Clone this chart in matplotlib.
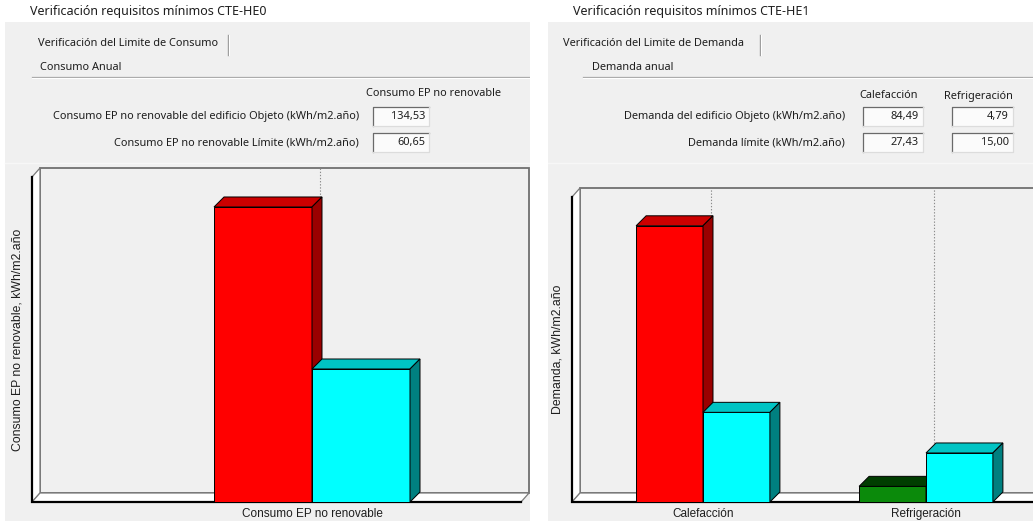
import matplotlib
matplotlib.use("Agg")
import matplotlib.pyplot as plt
from matplotlib.patches import Rectangle, Polygon

# ---- data -------------------------------------------------------------
he0_categories = ["Consumo EP no renovable"]
he0_objeto = [134.53]
he0_limite = [60.65]

he1_categories = ["Calefacción", "Refrigeración"]
he1_objeto = [84.49, 4.79]
he1_limite = [27.43, 15.00]

he0_title = "Verificación requisitos mínimos CTE-HE0"
he1_title = "Verificación requisitos mínimos CTE-HE1"
he0_tab = "Verificación del Limite de Consumo"
he1_tab = "Verificación del Limite de Demanda"
he0_section = "Consumo Anual"
he1_section = "Demanda anual"
he0_rows = ["Consumo EP no renovable del edificio Objeto (kWh/m2.año)",
            "Consumo EP no renovable Límite (kWh/m2.año)"]
he1_rows = ["Demanda del edificio Objeto (kWh/m2.año)",
            "Demanda límite (kWh/m2.año)"]
he0_ylabel = "Consumo EP no renovable, kWh/m2.año"
he1_ylabel = "Demanda, kWh/m2.año"

# ---- figure -----------------------------------------------------------
W, H = 1033, 521
fig = plt.figure(figsize=(W / 100, H / 100), dpi=100, facecolor="white")

UI_FONT = ["Noto Sans", "DejaVu Sans"]
CHART_FONT = ["Liberation Sans", "DejaVu Sans"]
PANEL = "#f0f0f0"
UI_SIZE = 7.9
TEXT = "#1e1e1e"

bg = fig.add_axes([0, 0, 1, 1])
bg.set_xlim(0, W)
bg.set_ylim(H, 0)
bg.axis("off")


def fmt(v):
    return f"{v:.2f}".replace(".", ",")


def field(x0, y0, x1, y1, value):
    bg.add_patch(Rectangle((x0, y0), x1 - x0, y1 - y0, facecolor="#fbfbfb",
                           edgecolor="none", zorder=2))
    bg.plot([x0, x0, x1], [y1, y0, y0], color="#6a6a6a", lw=0.9, zorder=3)
    bg.plot([x0, x1, x1], [y1, y1, y0], color="#dcdcdc", lw=0.9, zorder=3)
    bg.text(x1 - 4, (y0 + y1) / 2 + 0.5, value, ha="right", va="center",
            fontsize=UI_SIZE, family=UI_FONT, color=TEXT, zorder=4)


def ui_panel(x0, x1, title, tab, tab_x, tab_sep, section, section_x,
             line_x0):
    bg.add_patch(Rectangle((x0, 22), x1 - x0, H - 22, facecolor=PANEL,
                           edgecolor="none", zorder=0))
    bg.text(x0 + 25, 12, title, ha="left", va="center", fontsize=9.0,
            family=UI_FONT, color=TEXT)
    bg.text(tab_x, 44, tab, ha="left", va="center", fontsize=UI_SIZE,
            family=UI_FONT, color=TEXT)
    bg.plot([tab_sep, tab_sep], [35, 55], color="#9a9a9a", lw=1.0)
    bg.plot([tab_sep + 1, tab_sep + 1], [35, 55], color="white", lw=0.8)
    bg.text(section_x, 67, section, ha="left", va="center", fontsize=UI_SIZE,
            family=UI_FONT, color=TEXT)
    bg.plot([line_x0, x1], [77, 77], color="#a8a8a8", lw=0.9)
    bg.plot([line_x0, x1], [78.2, 78.2], color="white", lw=0.8)
    bg.plot([x0, x1], [163, 163], color="#f7f7f7", lw=1.0)


ui_panel(5, 530, he0_title, he0_tab, 38, 228, he0_section, 40, 32)
ui_panel(548, W, he1_title, he1_tab, 563, 760, he1_section, 592, 583)

# HE0 table
bg.text(434, 93, he0_categories[0], ha="center", va="center",
        fontsize=UI_SIZE, family=UI_FONT, color=TEXT)
for i, (lab, val) in enumerate(zip(he0_rows, [he0_objeto[0], he0_limite[0]])):
    yc = 117 + i * 26
    bg.text(359, yc, lab, ha="right", va="center", fontsize=UI_SIZE,
            family=UI_FONT, color=TEXT)
    field(373, yc - 10, 429, yc + 9, fmt(val))

# HE1 table
col_x = [(863, 923), (952, 1013)]
for (xa, xb), name in zip(col_x, he1_categories):
    bg.text((xa + xb) / 2 - 4, 96, name, ha="center", va="center",
            fontsize=UI_SIZE, family=UI_FONT, color=TEXT)
for i, (lab, vals) in enumerate(zip(he1_rows, [he1_objeto, he1_limite])):
    yc = 117 + i * 26
    bg.text(845, yc, lab, ha="right", va="center", fontsize=UI_SIZE,
            family=UI_FONT, color=TEXT)
    for (xa, xb), v in zip(col_x, vals):
        field(xa, yc - 10, xb, yc + 9, fmt(v))


# ---- 3D bar charts ----------------------------------------------------
def px_axes(l, t, r, b):
    return [l / W, (H - b) / H, (r - l) / W, (b - t) / H]


SHADES = {
    "red": ("#ff0000", "#cc0000", "#9a0000"),
    "cyan": ("#00ffff", "#00c4c4", "#008080"),
    "green": ("#0b8a0b", "#003d00", "#005200"),
}
WALL_DX, WALL_DY = 8, 9
BAR_D = 10


def bar3d(ax, x, w, h, shade, sx, sy):
    front, top, side = SHADES[shade]
    dx, dy = BAR_D / sx, BAR_D / sy
    ax.bar(x, h, width=w, align="edge", color=front, edgecolor="black",
           linewidth=0.7, zorder=5)
    ax.add_patch(Polygon([(x, h), (x + w, h), (x + w + dx, h + dy),
                          (x + dx, h + dy)], closed=True, facecolor=top,
                         edgecolor="black", lw=0.7, zorder=5, clip_on=False))
    ax.add_patch(Polygon([(x + w, 0), (x + w, h), (x + w + dx, h + dy),
                          (x + w + dx, dy)], closed=True, facecolor=side,
                         edgecolor="black", lw=0.7, zorder=5, clip_on=False))


def chart(rect, xlim, ymax, cats, objeto, limite, width, ylabel, ylabel_x):
    ax = fig.add_axes(px_axes(*rect))
    ax.set_xlim(*xlim)
    ax.set_ylim(0, ymax)
    ax.patch.set_visible(False)
    for s in ax.spines.values():
        s.set_visible(False)
    ax.set_yticks([])
    pos = list(range(len(cats)))
    ax.set_xticks(pos, cats, fontsize=8.5, family=CHART_FONT, color=TEXT)
    ax.tick_params(axis="x", length=0, pad=4.0)

    p = ax.transData.transform([(0, 0), (1, 1)])
    sx, sy = p[1, 0] - p[0, 0], p[1, 1] - p[0, 1]
    wdx, wdy = WALL_DX / sx, WALL_DY / sy
    x0, x1 = xlim

    # back wall, side wall and floor
    ax.add_patch(Rectangle((x0 + wdx, wdy), x1 - x0, ymax, facecolor=PANEL,
                           edgecolor="#707070", lw=1.3, zorder=0,
                           clip_on=False))
    ax.add_patch(Polygon([(x0, 0), (x0, ymax), (x0 + wdx, ymax + wdy),
                          (x0 + wdx, wdy)], closed=True, facecolor="white",
                         edgecolor="#7a7a7a", lw=0.9, zorder=1,
                         clip_on=False))
    ax.add_patch(Polygon([(x0, 0), (x1, 0), (x1 + wdx, wdy), (x0 + wdx, wdy)],
                         closed=True, facecolor="white", edgecolor="#7a7a7a",
                         lw=0.9, zorder=1, clip_on=False))
    ax.plot([x0, x0, x1], [ymax, 0, 0], color="black", lw=1.6, zorder=2,
            clip_on=False, solid_joinstyle="miter")

    # dotted category lines on the back wall
    for c in pos:
        ax.plot([c + wdx, c + wdx], [wdy, ymax + wdy], color="#8c8c8c",
                lw=0.8, ls=(0, (1.2, 1.6)), zorder=0.5, clip_on=False)

    for c, o, l in zip(pos, objeto, limite):
        bar3d(ax, c - width, width, o, "red" if o > l else "green", sx, sy)
        bar3d(ax, c, width, l, "cyan", sx, sy)

    fig.text(ylabel_x / W, 1 - ((rect[1] + rect[3]) / 2) / H, ylabel,
             rotation=90, ha="center", va="center", fontsize=8.8,
             family=CHART_FONT, color=TEXT)
    return ax


# HE0: front plot from x=32..521, y=177..502, 245 px per unit
chart((32, 177, 521, 502), ((32 - 312) / 245, (521 - 312) / 245), 148.2,
      he0_categories, he0_objeto, he0_limite, 0.4, he0_ylabel, 18)
# HE1: front plot from x=572..1057, y=197..502, 223 px per unit
chart((572, 197, 1057, 502), ((572 - 703) / 223, (1057 - 703) / 223), 93.3,
      he1_categories, he1_objeto, he1_limite, 0.3, he1_ylabel, 558)

# gap between the two panels
bg.add_patch(Rectangle((530, 0), 18, H, facecolor="white", edgecolor="none",
                       zorder=10))

fig.savefig("out.png", dpi=100, facecolor=fig.get_facecolor())
